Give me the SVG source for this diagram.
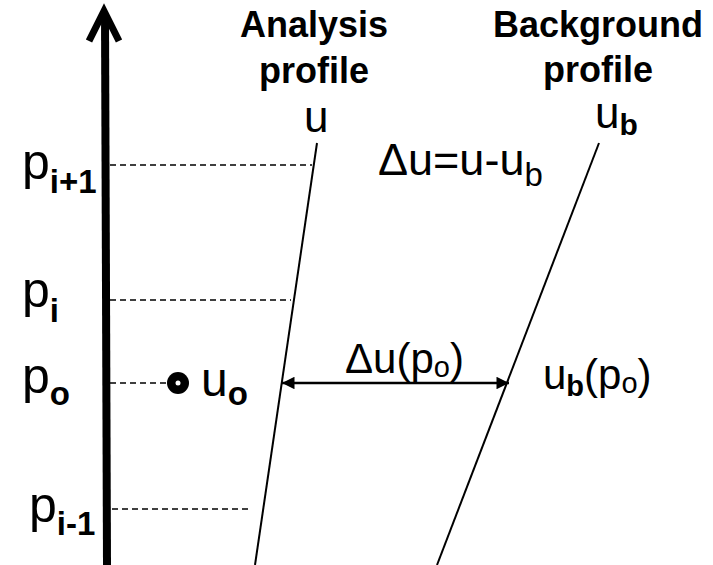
<svg xmlns="http://www.w3.org/2000/svg" width="713" height="565" viewBox="0 0 713 565">
<style>
text{font-family:"Liberation Sans",Arial,sans-serif;fill:#000}
.h{font-weight:bold;font-size:36px;text-anchor:middle}
.lab{font-size:50px}
.sb{font-weight:bold}
.dash{stroke:#000;stroke-width:1.5;stroke-dasharray:6 4;fill:none}
.prof{stroke:#000;stroke-width:2;fill:none}
</style>
<defs>
<marker id="ah" viewBox="0 0 10 10" refX="10" refY="5" markerWidth="6" markerHeight="5" markerUnits="strokeWidth" orient="auto-start-reverse">
<path d="M0,0 L10,5 L0,10 Z" fill="#000"/>
</marker>
</defs>
<g id="axis">
<line x1="105" y1="14" x2="107" y2="565" stroke="#000" stroke-width="8"/>
<polyline points="89,41 104,11 119,41" fill="none" stroke="#000" stroke-width="7" stroke-linejoin="miter"/>
</g>
<g id="levels">
<line class="dash" x1="110" y1="165" x2="312" y2="165"/>
<line class="dash" x1="110" y1="300" x2="291" y2="300"/>
<line class="dash" x1="110" y1="383" x2="168" y2="383"/>
<line class="dash" x1="112" y1="509" x2="249" y2="509"/>
</g>
<g id="labels-p">
<text class="lab" x="22" y="179">p<tspan class="sb" font-size="33" dy="14">i+1</tspan></text>
<text class="lab" x="22" y="307">p<tspan class="sb" font-size="33" dy="15">i</tspan></text>
<text class="lab" x="22" y="393">p<tspan class="sb" font-size="33" dy="12">o</tspan></text>
<text class="lab" x="29" y="522">p<tspan class="sb" font-size="33" dy="13">i-1</tspan></text>
</g>
<g id="analysis">
<text class="h" x="314" y="37">Analysis</text>
<text class="h" x="314" y="83">profile</text>
<text font-size="44" x="304" y="132">u</text>
<line class="prof" x1="317" y1="143" x2="255" y2="565"/>
</g>
<g id="background">
<text class="h" x="598" y="37">Background</text>
<text class="h" x="598" y="82">profile</text>
<text font-size="44" x="595" y="128">u<tspan class="sb" font-size="30" dy="7">b</tspan></text>
<line class="prof" x1="599" y1="143" x2="437" y2="565"/>
</g>
<g id="delta-def">
<text font-size="45" x="378" y="175">Δu=u-u<tspan font-size="33" dy="11">b</tspan></text>
</g>
<g id="obs">
<circle cx="178" cy="383" r="11" fill="#000"/>
<circle cx="178" cy="383" r="2.5" fill="#fff"/>
<text font-size="48" x="201" y="396">u<tspan class="sb" font-size="33" dy="9">o</tspan></text>
</g>
<g id="connectors">
<line x1="282" y1="383" x2="509" y2="383" stroke="#000" stroke-width="2.5" marker-start="url(#ah)" marker-end="url(#ah)"/>
</g>
<g id="delta-po">
<text font-size="42" x="345" y="373">Δu(p<tspan font-size="29" dy="4">o</tspan><tspan dy="-4">)</tspan></text>
</g>
<g id="ub-po">
<text font-size="42" x="543" y="389">u<tspan class="sb" font-size="29" dy="7">b</tspan><tspan dy="-7">(p</tspan><tspan font-size="29" dy="4">o</tspan><tspan dy="-4">)</tspan></text>
</g>
</svg>
